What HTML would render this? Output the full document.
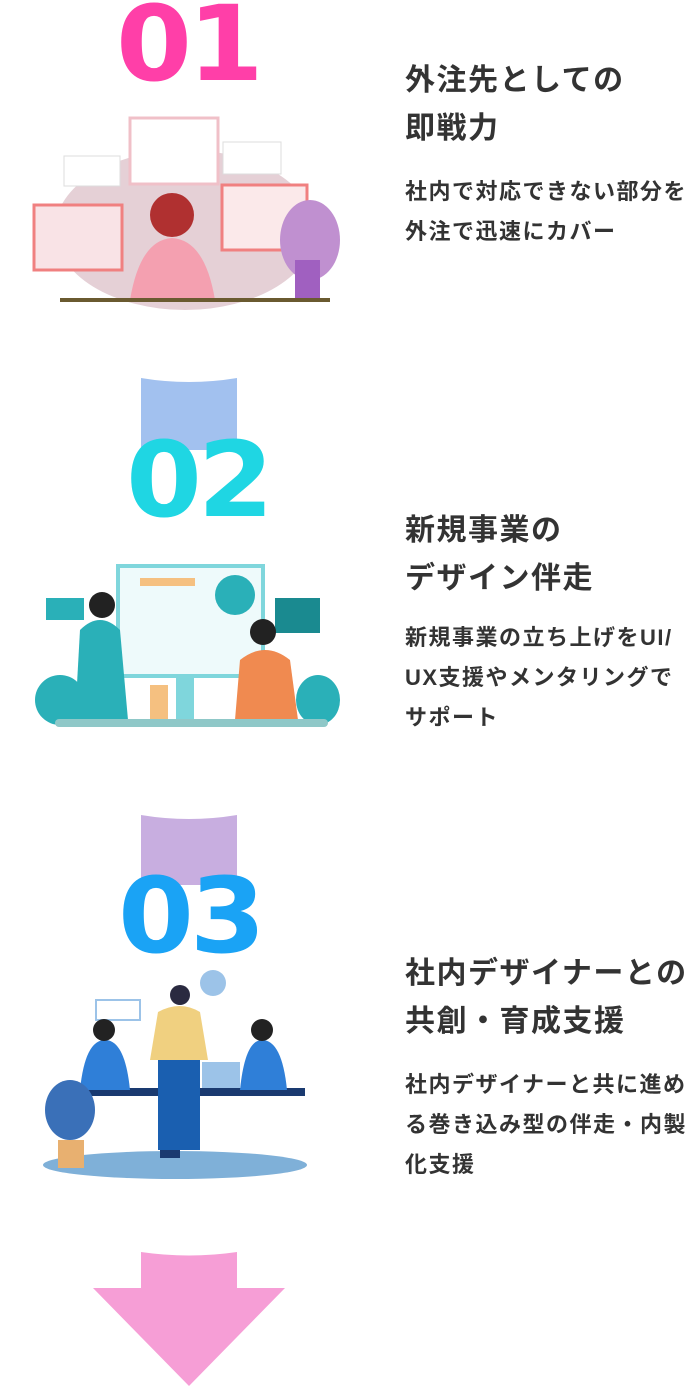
<!DOCTYPE html>
<html><head><meta charset="utf-8"><style>
body{margin:0;width:692px;height:1388px;background:#fff;position:relative;overflow:hidden;font-family:"Liberation Sans","Noto Sans CJK JP",sans-serif;}
.n{position:absolute;font-family:"DejaVu Sans","Liberation Sans",sans-serif;font-weight:900;font-size:104px;letter-spacing:-4px;line-height:1;transform:scaleX(1.05);transform-origin:left;}
.t{position:absolute;left:405px;color:#333;font-weight:700;font-size:30px;letter-spacing:1.5px;line-height:48px;white-space:nowrap;}
.d{position:absolute;left:405px;color:#333;font-weight:700;font-size:22px;letter-spacing:1.5px;line-height:40px;white-space:nowrap;}
svg{position:absolute;left:0;top:0}
</style></head><body>
<svg width="692" height="1388">
<path d="M141 378 Q189 386 237 378 L237 450 L141 450Z" fill="#a2c1ef"/>
<path d="M141 815 Q189 823 237 815 L237 885 L141 885Z" fill="#c8aee0"/>
<path d="M141 1252 Q189 1259 237 1252 L237 1288 L285 1288 L189 1386 L93 1288 L141 1288Z" fill="#f69ed6"/>
<ellipse cx="185" cy="230" rx="130" ry="80" fill="#e5d0d6"/>
<rect x="130" y="118" width="88" height="66" fill="#fff" stroke="#f0c0c8" stroke-width="3"/>
<rect x="34" y="205" width="88" height="65" fill="#f9e3e6" stroke="#f08080" stroke-width="3"/>
<rect x="222" y="185" width="85" height="65" fill="#fbe9ea" stroke="#f08080" stroke-width="3"/>
<rect x="223" y="142" width="58" height="32" fill="#fff" stroke="#ddd"/>
<rect x="64" y="156" width="56" height="30" fill="#fff" stroke="#ddd"/>
<circle cx="172" cy="215" r="22" fill="#b03030"/>
<path d="M130 300 Q140 240 172 238 Q205 240 215 300Z" fill="#f4a0b0"/>
<ellipse cx="310" cy="240" rx="30" ry="40" fill="#c090d0"/>
<rect x="295" y="260" width="25" height="40" fill="#a060c0"/>
<rect x="60" y="298" width="270" height="4" fill="#6a5a30"/>
<rect x="118" y="566" width="145" height="110" fill="#eefafb" stroke="#7fd6dc" stroke-width="4"/>
<rect x="140" y="578" width="55" height="8" fill="#f5c080"/>
<circle cx="235" cy="595" r="20" fill="#2ab0b8"/>
<rect x="46" y="598" width="38" height="22" fill="#2ab0b8"/>
<rect x="275" y="598" width="45" height="35" fill="#1a8a90"/>
<path d="M75 720 L80 630 Q100 610 120 630 L128 720Z" fill="#2ab0b8"/>
<circle cx="102" cy="605" r="13" fill="#222"/>
<rect x="150" y="685" width="18" height="35" fill="#f5c080"/>
<rect x="176" y="678" width="18" height="42" fill="#7fd6dc"/>
<path d="M235 720 L240 660 Q265 640 290 660 L298 720Z" fill="#f08a50"/>
<circle cx="263" cy="632" r="13" fill="#222"/>
<ellipse cx="60" cy="700" rx="25" ry="25" fill="#2ab0b8"/>
<ellipse cx="318" cy="700" rx="22" ry="25" fill="#2ab0b8"/>
<rect x="55" y="719" width="273" height="8" rx="4" fill="#8fc8c8"/>
<ellipse cx="175" cy="1165" rx="132" ry="14" fill="#7fb0d8"/>
<rect x="70" y="1088" width="235" height="8" fill="#1a3a70"/>
<rect x="160" y="1096" width="20" height="62" fill="#1a3a70"/>
<rect x="96" y="1000" width="44" height="20" fill="#fff" stroke="#9cc3e8" stroke-width="2"/>
<circle cx="213" cy="983" r="13" fill="#9cc3e8"/>
<path d="M150 1060 L158 1012 Q180 1000 200 1012 L208 1060Z" fill="#f0d080"/>
<rect x="158" y="1060" width="42" height="90" fill="#1a5fb0"/>
<circle cx="180" cy="995" r="10" fill="#2a2a40"/>
<path d="M80 1090 Q85 1040 105 1040 Q125 1040 130 1090Z" fill="#2f7fd8"/>
<circle cx="104" cy="1030" r="11" fill="#222"/>
<path d="M240 1090 Q245 1040 262 1040 Q282 1040 287 1090Z" fill="#2f7fd8"/>
<circle cx="262" cy="1030" r="11" fill="#222"/>
<rect x="202" y="1062" width="38" height="26" fill="#9cc3e8"/>
<ellipse cx="70" cy="1110" rx="25" ry="30" fill="#3a70b8"/>
<rect x="58" y="1140" width="26" height="28" fill="#e8b070"/>
</svg>
<div class="n" style="left:116px;top:-8px;color:#ff3fa8">01</div>
<div class="n" style="left:126px;top:428px;color:#1fd6e3">02</div>
<div class="n" style="left:118px;top:864px;color:#1aa3f5">03</div>
<div class="t" style="top:57px">外注先としての<br>即戦力</div>
<div class="d" style="top:172px">社内で対応できない部分を<br>外注で迅速にカバー</div>
<div class="t" style="top:507px">新規事業の<br>デザイン伴走</div>
<div class="d" style="top:618px">新規事業の立ち上げをUI/<br>UX支援やメンタリングで<br>サポート</div>
<div class="t" style="top:950px">社内デザイナーとの<br>共創・育成支援</div>
<div class="d" style="top:1065px">社内デザイナーと共に進め<br>る巻き込み型の伴走・内製<br>化支援</div>
</body></html>
